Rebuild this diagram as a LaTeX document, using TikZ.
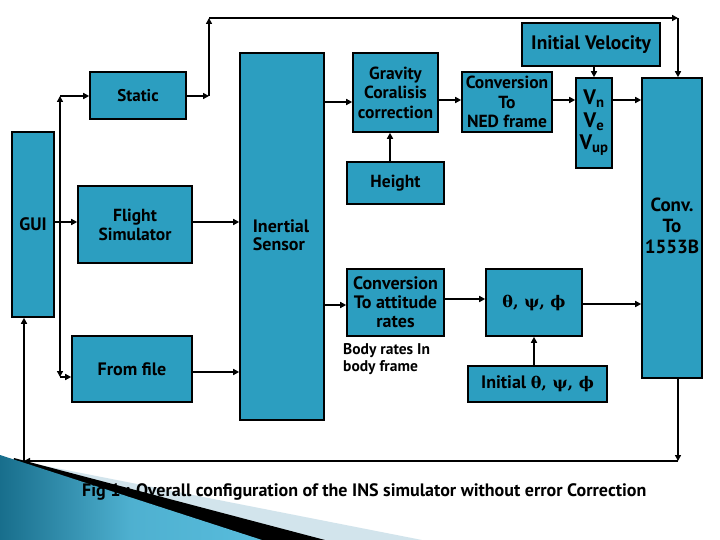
\documentclass[tikz,border=0pt]{standalone}
\usepackage{fontspec}
\setmainfont{PT Sans}
\newfontfamily\grk{DejaVu Serif}
\usetikzlibrary{arrows.meta,shadings}
\definecolor{boxblue}{RGB}{44,158,192}
\definecolor{decodark}{RGB}{24,110,140}
\definecolor{decolight}{RGB}{88,188,220}
\definecolor{decopale}{RGB}{210,228,236}
\newcommand{\fs}[2]{\fontsize{#1}{#2}\selectfont\bfseries}
\newcommand{\tpf}{{\grk\bfseries θ, ψ, ϕ}}
\begin{document}
\begin{tikzpicture}[x=1pt,y=-1pt,
  box/.style={draw=black, fill=boxblue, line width=1.6pt, inner sep=0pt, align=center},
  arr/.style={line width=1.6pt, -{Triangle[length=6pt,width=6pt]}},
  ln/.style={line width=1.6pt}]
\useasboundingbox (0,0) rectangle (720,540);
\fill[white] (0,0) rectangle (720,540);

% boxes
\node[box, minimum width=42pt, minimum height=185pt, font=\fs{18}{20}] (gui) at (33,224.5) {GUI};
\node[box, minimum width=96pt, minimum height=47pt, font=\fs{17}{19}] (static) at (138,95.5) {Static};
\node[box, minimum width=114pt, minimum height=77pt, font=\fs{17.5}{19}] (flight) at (135,224.5) {Flight\\Simulator};
\node[box, minimum width=84pt, minimum height=367pt] (ins) at (282,236.5) {};
\node[font=\fs{18}{18}, align=left] (inslbl) at (281,235) {Inertial\\Sensor};
\node[box, minimum width=85pt, minimum height=79pt, font=\fs{17.5}{19.5}] (grav) at (395.5,92.5) {Gravity\\Coralisis\\correction};
\node[box, minimum width=90pt, minimum height=60pt, font=\fs{17.5}{19.5}] (ned) at (507,102) {Conversion\\To\\NED frame};
\node[box, minimum width=138pt, minimum height=43pt, font=\fs{19.5}{20}] (ivel) at (591,44.5) {Initial Velocity};
\node[box, minimum width=36pt, minimum height=90pt, font=\fs{21}{22.5}] (vel) at (594,123) {V\textsubscript{n}\\V\textsubscript{e}\\V\textsubscript{up}};
\node[box, minimum width=60pt, minimum height=300pt] (conv) at (672,228) {};
\node[font=\fs{19}{21}, align=center] (convlbl) at (672,226) {Conv.\\To\\1553B};
\node[box, minimum width=97pt, minimum height=42pt, font=\fs{17.5}{19}] (height) at (395.5,183) {Height};
\node[box, minimum width=97pt, minimum height=67pt, font=\fs{18}{19}] (catt) at (395.5,302.5) {Conversion\\To attitude\\rates};
\node[box, minimum width=96pt, minimum height=67pt, font=\fs{16}{19}] (ang) at (534,302.5) {\tpf};
\node[box, minimum width=139pt, minimum height=36pt, font=\fs{18}{20}] (iang) at (537.5,384) {Initial {\fontsize{16}{20}\selectfont\tpf}};
\node[box, minimum width=120pt, minimum height=66pt, font=\fs{18}{19}] (file) at (132,369) {From file};
\node[font=\fs{15.5}{17}, align=left, anchor=north west, inner sep=0pt] (body) at (343,343) {Body rates In\\body frame};

% junction coordinates
\coordinate (j0) at (60,222);
\coordinate (jt) at (60,96);
\coordinate (jb) at (60,377);
\coordinate (s1) at (209,96);
\coordinate (s2) at (209,18);
\coordinate (s3) at (678,18);
\coordinate (b1) at (678,461);
\coordinate (b2) at (24,461);

% connectors
\draw[arr] (gui.east |- j0) -- (flight.west |- j0);
\draw[arr] (j0) -- (jt);
\draw[arr] (jt) -- (static.west |- jt);
\draw[arr] (j0) -- (jb);
\draw[arr] (jb) -- (file.west |- jb);
\draw[arr] (static.east |- s1) -- (s1);
\draw[arr] (s1) -- (s2);
\draw[arr] (s2) -- (s3);
\draw[arr] (s3) -- (conv.north -| s3);
\draw[arr] (ins.east |- 0,102) -- (grav.west |- 0,102);
\draw[arr] (grav.east |- 0,100) -- (ned.west |- 0,100);
\draw[arr] (ned.east |- 0,100) -- (vel.west |- 0,100);
\draw[arr] (vel.east |- 0,100) -- (conv.west |- 0,100);
\draw[arr] (ivel.south -| vel.north) -- (vel.north);
\draw[arr] (height.north -| 390,0) -- (grav.south -| 390,0);
\draw[arr] (flight.east |- 0,222) -- (ins.west |- 0,222);
\draw[arr] (file.east |- 0,372) -- (ins.west |- 0,372);
\draw[arr] (ins.east |- 0,305) -- (catt.west |- 0,305);
\draw[arr] (catt.east |- 0,299) -- (ang.west |- 0,299);
\draw[arr] (ang.east |- 0,304) -- (conv.west |- 0,304);
\draw[arr] (iang.north -| ang.south) -- (ang.south);
\draw[arr] (conv.south -| b1) -- (b1);
\draw[arr] (b1) -- (b2);
\draw[arr] (b2) -- (gui.south -| b2);

% decoration
\fill[decopale] (15,460) -- (422,540) -- (0,540) -- cycle;
\fill[black] (14,458) -- (325,540) -- (0,540) -- cycle;
\shade[left color=decodark, right color=decolight, middle color=decolight!85!decodark] (0,455) -- (262,540) -- (0,540) -- cycle;

% caption
\node[font=\fs{18}{19}, anchor=west, inner sep=0pt] (cap) at (82,492) {Fig 1 : Overall configuration of the INS simulator without error Correction};
\end{tikzpicture}
\end{document}
